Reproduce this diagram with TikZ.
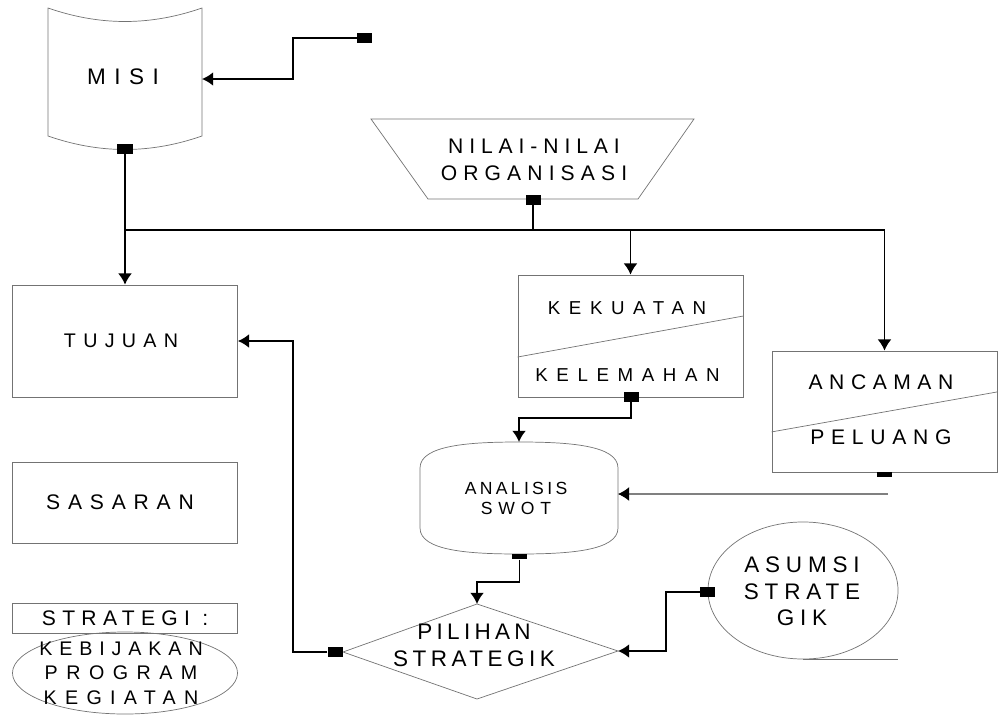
\documentclass[tikz,border=0pt]{standalone}
\usepackage{fontspec}
\setmainfont{Liberation Sans}
\usetikzlibrary{arrows.meta,shapes.geometric}
\newcommand{\tracked}[2]{{\addfontfeature{LetterSpace=#1}#2}}
\newcommand{\fsz}[2]{\fontsize{#1}{#2}\selectfont}

\begin{document}
\begin{tikzpicture}[x=0.025cm, y=-0.025cm]
	\tikzset{>={Latex[length=2.8mm,width=3.5mm]}}
	\tikzset{
		outline/.style={draw=black!55, line width=0.5pt},
		box/.style={outline, rectangle, inner sep=0pt, minimum width=5.625cm},
		wire/.style={line width=1.4pt},
		feed/.style={draw=black!50, line width=0.8pt, -{Latex[length=2.8mm,width=3.5mm,black]}},
		sq/.style={fill=black, inner sep=0pt, minimum width=0.375cm, minimum height=0.25cm},
		stub/.style={sq, minimum height=0.125cm, anchor=north},
		txt/.style={inner sep=0pt, align=center}
	}
	\useasboundingbox (0,0) rectangle (999,717);
	% misi
	\draw [outline] (48,8) .. controls (100,26) and (150,26) .. (202,8) -- (202,136)
		.. controls (150,154) and (100,154) .. (48,136) -- cycle;
	\node [txt, font=\fsz{16}{19}] (misi) at (123,77) {\tracked{38}{MISI}};
	\coordinate (misiE) at (202,79);
	\node [sq] (misiSq) at (125,149) {};
	\node [sq] (feedSq) at (364.5,38) {};
	% nilai-nilai
	\draw [outline] (371,119) -- (694,119) -- (638,199) -- (428,199) -- cycle;
	\node [txt, font=\fsz{15}{18.9}] (nilai) at (534,160) {\tracked{28}{NILAI-NILAI}\\\tracked{29}{ORGANISASI}};
	\node [sq] (nilaiSq) at (533,200) {};
	% left column
	\node [box, minimum height=2.8cm] (tujuan) at (125,341) {};
	\node [txt, font=\fsz{14}{17}] (tujuanT) at (121,341) {\tracked{37}{TUJUAN}};
	\node [box, minimum height=2.025cm] (sasaran) at (125,502.5) {};
	\node [txt, font=\fsz{15}{18}] (sasaranT) at (120,502.5) {\tracked{37}{SASARAN}};
	\node [box, minimum height=0.75cm, font=\fsz{15}{18}] (strategi) at (125,618) {\tracked{30}{STRATEGI :}};
	\node [outline, ellipse, inner sep=0pt, minimum width=5.625cm, minimum height=2.05cm] (prog) at (125,673) {};
	\node [txt, font=\fsz{14}{17.4}] (progT) at (121,673) {\tracked{35}{KEBIJAKAN}\\\tracked{43}{PROGRAM}\\\tracked{42}{KEGIATAN}};
	% kekuatan / kelemahan
	\node [box, minimum height=3.05cm] (kuat) at (630.5,336) {};
	\draw [outline] ([yshift=-0.525cm]kuat.west) -- ([yshift=0.5cm]kuat.east);
	\node [txt, font=\fsz{13.3}{16}] (kuatT) at (627,308) {\tracked{46}{KEKUATAN}};
	\node [txt, font=\fsz{13.3}{16}] (lemahT) at (627.5,375) {\tracked{46}{KELEMAHAN}};
	\node [sq] (kuatSq) at (631,397) {};
	% ancaman / peluang
	\node [box, minimum height=3.025cm] (ancam) at (884.5,411.5) {};
	\draw [outline] ([yshift=-0.51cm]ancam.west) -- ([yshift=0.49cm]ancam.east);
	\node [txt, font=\fsz{15}{18}] (ancamT) at (881,382.5) {\tracked{31}{ANCAMAN}};
	\node [txt, font=\fsz{15}{18}] (peluangT) at (881,437.5) {\tracked{32}{PELUANG}};
	\node [stub] (ancSq) at (884,472) {};
	\coordinate (ancOut) at (888,494);
	% analisis swot
	\draw [outline] (420,528) -- (420,468) .. controls (420,445) and (470,442) .. (519,442)
		.. controls (568,442) and (618,445) .. (618,468) -- (618,528)
		.. controls (618,551) and (568,554) .. (519,554)
		.. controls (470,554) and (420,551) .. (420,528) -- cycle;
	\node [txt, font=\fsz{12.5}{14.2}] (swot) at (516,498) {\tracked{19}{ANALISIS}\\\tracked{33}{SWOT}};
	\coordinate (swotN) at (519,442);
	\coordinate (swotE) at (618,494);
	\node [stub] (swotSq) at (519.5,554) {};
	% pilihan strategik
	\coordinate (pilN) at (477,604);
	\coordinate (pilE) at (618,651);
	\coordinate (pilB) at (477,699);
	\coordinate (pilW) at (343,652);
	\draw [outline] (pilN) -- (pilE) -- (pilB) -- (pilW) -- cycle;
	\node [txt, font=\fsz{16}{19.2}] (pil) at (474,645.5) {\tracked{19}{PILIHAN}\\\tracked{20}{STRATEGIK}};
	\node [sq, anchor=east] (pilSq) at (pilW) {};
	% asumsi strategik
	\node [outline, ellipse, inner sep=0pt, minimum width=4.75cm, minimum height=3.425cm] (asum) at (803,590.5) {};
	\draw [outline] (asum.south) -- ++(95,0);
	\node [txt, font=\fsz{16}{18.9}] (asumT) at (802,591.5) {\tracked{26}{ASUMSI}\\\tracked{26}{STRATE}\\\tracked{26}{GIK}};
	\node [sq] (asumSq) at (707.5,592) {};
	% connectors
	\draw [wire,->] (feedSq.west) -- ++(-64,0) |- (misiE);
	\coordinate (busL) at (125,230);
	\coordinate (busR) at (884.5,230);
	\draw [wire] (busL) -- (busR);
	\draw [wire,->] (misiSq.south) -- (tujuan.north);
	\draw [wire] (nilaiSq.south) -- (nilaiSq |- busL);
	\draw [wire,->] (kuat.north |- busL) -- (kuat.north);
	\draw [wire,->] (busR) -- (ancam.north);
	\draw [wire,->] (kuatSq.south) -- ++(0,16) -| (swotN);
	\draw [feed] (ancOut) -- (swotE);
	\draw [wire,->] (swotSq.south) -- ++(0,22) -| (pilN);
	\draw [wire,->] (asumSq.west) -- ++(-34,0) |- (pilE);
	\draw [wire,->] (pilSq.west) -- ++(-34.5,0) |- (tujuan.east);
\end{tikzpicture}
\end{document}
